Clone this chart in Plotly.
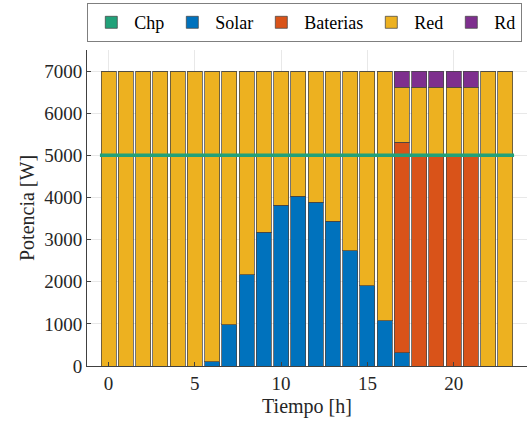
import plotly.graph_objects as go

hours = list(range(24))
chp = [5000] * 24
solar = [0, 0, 0, 0, 0, 0, 100, 980, 2170, 3170, 3810, 4030, 3890, 3430, 2730, 1910, 1080, 320, 0, 0, 0, 0, 0, 0]
baterias = [0] * 17 + [4990, 5000, 5000, 5000, 5000, 0, 0]
red = [7000] * 6 + [6900, 6020, 4830, 3830, 3190, 2970, 3110, 3570, 4270, 5090, 5920, 1310, 1620, 1620, 1620, 1620, 7000, 7000]
rd = [0] * 17 + [380, 380, 380, 380, 380, 0, 0]

x_ticks = [0, 5, 10, 15, 20]
y_ticks = [0, 1000, 2000, 3000, 4000, 5000, 6000, 7000]

C_CHP = "#21A179"
C_SOLAR = "#0072BD"
C_BAT = "#D95319"
C_RED = "#EDB120"
C_RD = "#7E2F8E"
FONT = "Liberation Serif, Times New Roman, serif"
TXT = "#262626"

fig = go.Figure()
edge = dict(color="rgba(70,70,70,0.75)", width=1)

# legend-only patch for Chp
fig.add_trace(go.Bar(x=[None], y=[None], name="Chp", marker=dict(color=C_CHP, line=edge), legendrank=1))
for name, vals, col, rank in [("Solar", solar, C_SOLAR, 2), ("Baterias", baterias, C_BAT, 3),
                              ("Red", red, C_RED, 4), ("Rd", rd, C_RD, 5)]:
    fig.add_trace(go.Bar(x=hours, y=vals, name=name, marker=dict(color=col, line=edge), legendrank=rank))

# Chp line across bars
lx = [h - 0.5 for h in hours] + [hours[-1] + 0.5]
ly = chp + [chp[-1]]
fig.add_trace(go.Scatter(x=lx, y=ly, mode="lines", line=dict(color=C_CHP, width=3.5, shape="hv"),
                         showlegend=False, hoverinfo="skip"))

fig.update_layout(
    width=530, height=424,
    margin=dict(l=87, r=3, t=50, b=58),
    barmode="stack", bargap=0.13,
    plot_bgcolor="white", paper_bgcolor="white",
    font=dict(family=FONT, size=19, color=TXT),
    legend=dict(orientation="h", x=0.495, xanchor="center", y=1.025, yanchor="bottom",
                bordercolor="#7f7f7f", borderwidth=1, font=dict(size=18, family=FONT, color="black"),
                traceorder="normal", itemwidth=36, tracegroupgap=0),
    xaxis=dict(range=[-1.25, 24.25], tickvals=x_ticks, showgrid=True, gridcolor="#e8e8e8",
               zeroline=False, showline=True, linecolor="#404040", linewidth=1,
               ticks="inside", ticklen=4, tickcolor="#404040", tickfont=dict(family=FONT, size=19),
               title=dict(text="Tiempo [h]", font=dict(size=20, family=FONT), standoff=6)),
    yaxis=dict(range=[0, 7500], tickvals=y_ticks, showgrid=True, gridcolor="#e8e8e8",
               zeroline=False, showline=True, linecolor="#404040", linewidth=1,
               ticks="inside", ticklen=4, tickcolor="#404040", tickfont=dict(family=FONT, size=19),
               title=dict(text="Potencia [W]", font=dict(size=20, family=FONT), standoff=4)),
)

fig.write_html("out.html")
